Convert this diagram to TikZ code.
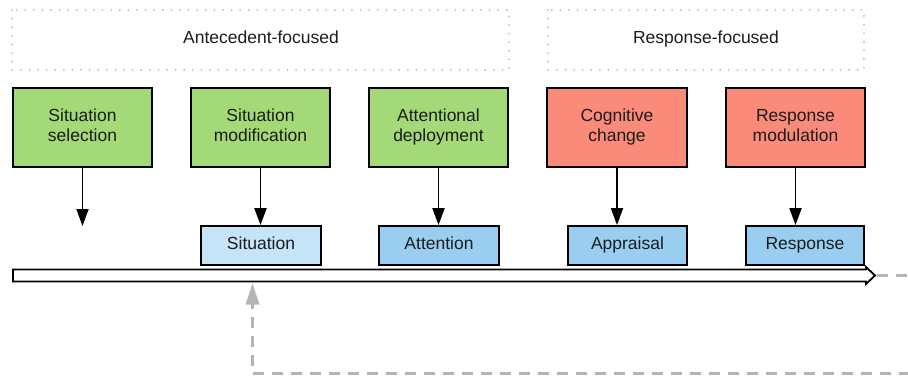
\documentclass[tikz,border=0pt]{standalone}
\usepackage{fontspec}
\setmainfont{Liberation Sans}
\usetikzlibrary{arrows.meta}
\definecolor{stratgreen}{HTML}{A3D977}
\definecolor{stratred}{HTML}{FA8A7A}
\definecolor{paleblue}{HTML}{C6E4F7}
\definecolor{midblue}{HTML}{99CEF0}
\definecolor{dotgray}{HTML}{BDBDBD}
\definecolor{loopgray}{HTML}{B4B4B4}
\definecolor{inkdark}{HTML}{1C1C1C}
\tikzset{
  txt/.style={font=\fontsize{17.5}{20.5}\selectfont, text=inkdark, align=center},
  groupbox/.style={draw=dotgray, line width=2pt, dash pattern=on 0.1pt off 8.5pt, line cap=round},
  strategy/.style={txt, draw=black, line width=1.8pt, minimum width=139pt, minimum height=79pt, inner sep=0pt},
  target/.style={txt, draw=black, line width=1.8pt, minimum height=39pt, inner sep=0pt},
  flow/.style={draw=black, line width=1.8pt, -{Triangle[length=17pt,width=12pt]}},
  loop/.style={draw=loopgray, line width=3pt, dash pattern=on 11pt off 8pt},
}
\begin{document}
\begin{tikzpicture}[x=1pt,y=1pt]
\useasboundingbox (0,0) rectangle (908,-376);

% group frames
\draw[groupbox] (12,-10) rectangle (509,-70);
\draw[groupbox] (548,-10) rectangle (864,-70);
\node[txt] (antec) at (261,-39) {\strut Antecedent-focused};
\node[txt] (respf) at (706,-39) {\strut Response-focused};

% strategy boxes
\node[strategy, fill=stratgreen] (sel)  at (82.5,-127.5)  {\strut Situation\\\strut selection};
\node[strategy, fill=stratgreen] (mod)  at (260.5,-127.5) {\strut Situation\\\strut modification};
\node[strategy, fill=stratgreen] (att)  at (438.5,-127.5) {\strut Attentional\\\strut deployment};
\node[strategy, fill=stratred, minimum width=140pt] (cog)  at (617,-127.5)   {\strut Cognitive\\\strut change};
\node[strategy, fill=stratred]   (rmod) at (795.5,-127.5) {\strut Response\\\strut modulation};

% process stages
\node[target, fill=paleblue, minimum width=120pt] (sit)  at (261,-245.5)   {\strut Situation};
\node[target, fill=midblue,  minimum width=120pt] (attn) at (439,-245.5)   {\strut Attention};
\node[target, fill=midblue,  minimum width=119pt] (appr) at (627.5,-245.5) {\strut Appraisal};
\node[target, fill=midblue,  minimum width=118pt] (resp) at (805,-245.5)   {\strut Response};

% strategy -> stage arrows
\coordinate (selend) at (82.5,-226);
\draw[flow] (sel.south) -- (selend);
\draw[flow] (mod.south) -- (mod.south |- sit.north);
\draw[flow] (att.south) -- (att.south |- attn.north);
\draw[flow] (cog.south) -- (cog.south |- appr.north);
\draw[flow] (rmod.south) -- (rmod.south |- resp.north);

% time line
\coordinate (tlstart) at (13,-275.5);
\coordinate (tltip) at (875,-275.5);
\draw[line width=1.8pt, fill=white, line join=miter]
  (13,-269.5) -- (866,-269.5) -- (866,-267) -- (tltip) -- (866,-284) -- (866,-281.5) -- (13,-281.5) -- cycle;

% feedback loop
\coordinate (loopout) at (910,-275.5);
\coordinate (loopin) at (910,-373);
\coordinate (loopcorner) at (252.5,-373);
\coordinate (looptarget) at (252.5,-283.5);
\draw[loop] ([xshift=2pt]tltip) -- (loopout);
\draw[loop] (loopin) -- (loopcorner) -- ([yshift=-18pt]looptarget);
\fill[loopgray] (looptarget) -- ++(-7,-21) -- ++(14,0) -- cycle;
\end{tikzpicture}
\end{document}
